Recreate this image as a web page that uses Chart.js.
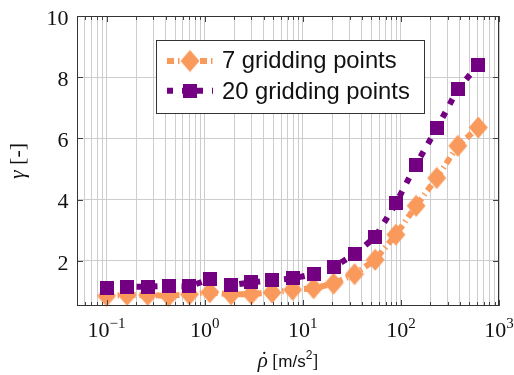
<!DOCTYPE html>
<html>
<head>
<meta charset="utf-8">
<script src="https://cdn.jsdelivr.net/npm/chart.js@4/dist/chart.umd.min.js"></script>
<style>
  html, body { margin: 0; padding: 0; background: #fff; }
  canvas { display: block; }
</style>
</head>
<body>
<canvas id="c" width="514" height="375"></canvas>
<script>
// Acceleration values (m/s^2) shared by both gridding runs
const accel = [0.1, 0.162, 0.263, 0.43, 0.70, 1.13, 1.86, 2.99, 4.86, 7.88,
               12.9, 20.6, 33.7, 54.7, 88.9, 143, 232, 380, 615];
// gamma for the coarse grid (7 points)
const gamma7 = [0.86, 0.89, 0.89, 0.86, 0.91, 0.98, 0.91, 0.92, 0.97, 1.06,
                1.11, 1.26, 1.57, 2.04, 2.86, 3.80, 4.71, 5.76, 6.36];
// gamma for the fine grid (20 points)
const gamma20 = [1.13, 1.16, 1.16, 1.19, 1.17, 1.41, 1.21, 1.30, 1.37, 1.43,
                 1.57, 1.80, 2.22, 2.78, 3.88, 5.15, 6.33, 7.61, 8.40];
const seriesLabels = ['7 gridding points', '20 gridding points'];
const yTickValues = [2, 4, 6, 8, 10];
const xDecades = [-1, 0, 1, 2, 3];

const ORANGE = '#F99A5C';
const PURPLE = '#730080';
const INK = '#111';
const SERIF = "'Liberation Serif', 'Times New Roman', serif";
const SANS = "'Liberation Sans', Arial, sans-serif";

// Marker glyphs: tall diamond and filled square
function makeMarker(w, h, paint) {
  const c = document.createElement('canvas');
  c.width = w; c.height = h;
  paint(c.getContext('2d'));
  return c;
}
const diamondMark = makeMarker(20, 23, g => {
  g.fillStyle = ORANGE;
  g.beginPath();
  g.moveTo(10, 0.5); g.lineTo(19.5, 11.5); g.lineTo(10, 22.5); g.lineTo(0.5, 11.5);
  g.closePath(); g.fill();
});
const squareMark = makeMarker(14, 14, g => {
  g.fillStyle = PURPLE;
  g.fillRect(0, 0, 14, 14);
});

const series = [
  { label: seriesLabels[1], values: gamma20, color: PURPLE, mark: squareMark,
    width: 6, dash: [6, 9] },
  { label: seriesLabels[0], values: gamma7, color: ORANGE, mark: diamondMark,
    width: 6, dash: [7, 4, 1.5, 4] }
];

// log-axis tick positions: 1..9 per decade inside [0.05, 1000]
function logTicks(min, max) {
  const out = [];
  for (let e = Math.floor(Math.log10(min)); e <= Math.ceil(Math.log10(max)); e++) {
    for (let m = 1; m <= 9; m++) {
      const v = +(m * Math.pow(10, e)).toPrecision(6);
      if (v >= min - 1e-12 && v <= max + 1e-9) out.push({ value: v });
    }
  }
  return out;
}

function strokeLine(ctx, x1, y1, x2, y2) {
  ctx.beginPath(); ctx.moveTo(x1, y1); ctx.lineTo(x2, y2); ctx.stroke();
}

const decor = {
  id: 'decor',
  afterDraw(chart) {
    const { ctx, chartArea: a, scales: { x, y } } = chart;
    ctx.save();

    // inward tick marks on all four sides
    ctx.strokeStyle = '#444';
    ctx.lineWidth = 1;
    x.ticks.forEach(t => {
      const px = Math.round(x.getPixelForValue(t.value)) + 0.5;
      const lg = Math.log10(t.value);
      const len = Math.abs(lg - Math.round(lg)) < 1e-9 ? 6 : 4;
      strokeLine(ctx, px, a.bottom, px, a.bottom - len);
      strokeLine(ctx, px, a.top, px, a.top + len);
    });
    y.ticks.forEach(t => {
      const py = Math.round(y.getPixelForValue(t.value)) + 0.5;
      strokeLine(ctx, a.left, py, a.left + 6, py);
      strokeLine(ctx, a.right, py, a.right - 6, py);
    });

    // frame
    ctx.strokeStyle = '#333';
    ctx.strokeRect(Math.round(a.left) + 0.5, Math.round(a.top) + 0.5,
                   Math.round(a.right - a.left) - 1, Math.round(a.bottom - a.top) - 1);

    ctx.fillStyle = INK;

    // y tick labels
    ctx.font = `22px ${SERIF}`;
    ctx.textAlign = 'right';
    ctx.textBaseline = 'alphabetic';
    yTickValues.forEach(v => {
      ctx.fillText(String(v), a.left - 8.5, y.getPixelForValue(v) + 8.7);
    });

    // x tick labels: 10 with a raised exponent
    ctx.textAlign = 'left';
    xDecades.forEach(e => {
      const px = x.getPixelForValue(Math.pow(10, e));
      const exp = e < 0 ? '\u2212' + Math.abs(e) : String(e);
      ctx.font = `22px ${SERIF}`;
      const wBase = ctx.measureText('10').width;
      ctx.font = `15px ${SERIF}`;
      const wExp = ctx.measureText(exp).width;
      const x0 = px - (wBase + wExp) / 2;
      ctx.font = `22px ${SERIF}`;
      ctx.fillText('10', x0, 337);
      ctx.font = `15px ${SERIF}`;
      ctx.fillText(exp, x0 + wBase, 328.3);
    });

    // x axis title: rho-dot [m/s^2]
    {
      const base = 367;
      const parts = [
        { t: '\u03C1', f: `italic 21px ${SERIF}`, dy: 0, dot: true },
        { t: ' [', f: `18px ${SERIF}`, dy: 0 },
        { t: 'm/s', f: `17px ${SANS}`, dy: 0 },
        { t: '2', f: `12px ${SANS}`, dy: -8 },
        { t: ']', f: `18px ${SERIF}`, dy: 0 }
      ];
      let total = 0;
      parts.forEach(p => { ctx.font = p.f; p.w = ctx.measureText(p.t).width; total += p.w; });
      let cx = (a.left + a.right) / 2 - total / 2;
      parts.forEach(p => {
        ctx.font = p.f;
        ctx.fillText(p.t, cx, base + p.dy);
        if (p.dot) {
          // time-derivative dot over the rho
          ctx.font = `21px ${SERIF}`;
          ctx.textAlign = 'center';
          ctx.fillText('\u02D9', cx + p.w / 2 + 1.5, base - 1);
          ctx.textAlign = 'left';
        }
        cx += p.w;
      });
    }

    // y axis title: gamma [-]
    {
      ctx.save();
      ctx.translate(20, (a.top + a.bottom) / 2);
      ctx.rotate(-Math.PI / 2);
      const parts = [
        { t: '\u03B3', f: `italic 22px ${SERIF}` },
        { t: ' [-]', f: `22px ${SERIF}` }
      ];
      let total = 0;
      parts.forEach(p => { ctx.font = p.f; p.w = ctx.measureText(p.t).width; total += p.w; });
      let cx = -total / 2;
      parts.forEach(p => { ctx.font = p.f; ctx.fillText(p.t, cx, 4.3); cx += p.w; });
      ctx.restore();
    }

    // legend box
    const box = { l: 156, t: 40, r: 424, b: 113 };
    ctx.fillStyle = '#fff';
    ctx.fillRect(box.l, box.t, box.r - box.l, box.b - box.t);
    ctx.strokeStyle = '#333';
    ctx.lineWidth = 1;
    ctx.strokeRect(box.l + 0.5, box.t + 0.5, box.r - box.l, box.b - box.t);

    const rows = [
      { s: series[1], cy: 61, base: 68.3 },
      { s: series[0], cy: 90.7, base: 99.3 }
    ];
    rows.forEach(r => {
      ctx.save();
      ctx.strokeStyle = r.s.color;
      ctx.lineWidth = r.s.width;
      ctx.lineCap = 'butt';
      ctx.setLineDash(r.s.dash);
      strokeLine(ctx, 167, r.cy, 213, r.cy);
      ctx.restore();
      ctx.drawImage(r.s.mark, 190 - r.s.mark.width / 2, r.cy - r.s.mark.height / 2);
      ctx.fillStyle = INK;
      ctx.font = `23.8px ${SANS}`;
      ctx.textAlign = 'left';
      ctx.fillText(r.s.label, 222, r.base);
    });

    ctx.restore();
  }
};

const gridStyle = { color: '#cdcdcd', lineWidth: 1, drawTicks: false };

new Chart(document.getElementById('c'), {
  type: 'line',
  data: {
    datasets: series.map(s => ({
      label: s.label,
      data: accel.map((v, i) => ({ x: v, y: s.values[i] })),
      borderColor: s.color,
      backgroundColor: s.color,
      borderWidth: s.width,
      borderDash: s.dash,
      borderCapStyle: 'butt',
      pointStyle: s.mark,
      pointRadius: 9,
      pointHoverRadius: 9,
      tension: 0,
      fill: false,
      clip: false
    }))
  },
  options: {
    responsive: false,
    animation: false,
    devicePixelRatio: 1,
    events: [],
    layout: { padding: { left: 77, right: 15, top: 16, bottom: 69 } },
    plugins: { legend: { display: false }, tooltip: { enabled: false } },
    scales: {
      x: {
        type: 'logarithmic', min: 0.05, max: 1000,
        afterBuildTicks: s => { s.ticks = logTicks(0.05, 1000); },
        ticks: { display: false },
        grid: gridStyle,
        border: { display: false }
      },
      y: {
        type: 'linear', min: 0.53, max: 10,
        afterBuildTicks: s => { s.ticks = yTickValues.map(v => ({ value: v })); },
        ticks: { display: false },
        grid: gridStyle,
        border: { display: false }
      }
    }
  },
  plugins: [decor]
});
</script>
</body>
</html>
